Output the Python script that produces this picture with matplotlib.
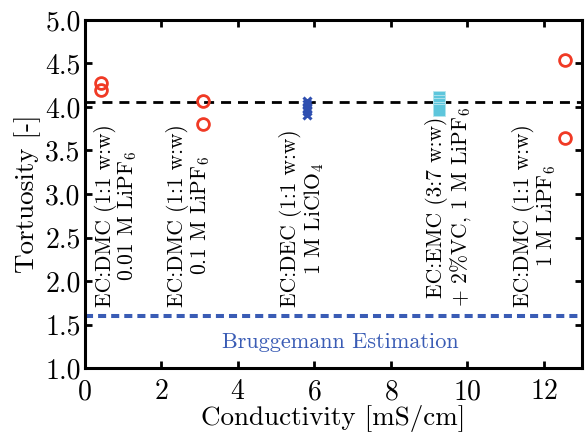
import matplotlib.pyplot as plt

plt.rcParams['font.family'] = 'serif'
plt.rcParams['font.serif'] = ['cmr10', 'DejaVu Serif']
plt.rcParams['mathtext.fontset'] = 'cm'
plt.rcParams['axes.formatter.use_mathtext'] = True

# red circles (LiPF6 in EC:DMC)
circ_x = [0.42, 0.42, 3.1, 3.1, 12.55, 12.55]
circ_y = [4.27, 4.20, 4.07, 3.80, 4.54, 3.64]
# blue crosses (LiClO4)
cross_x = [5.82, 5.82, 5.82, 5.82, 5.82]
cross_y = [4.07, 4.03, 3.99, 3.95, 3.91]
# cyan squares (EC:EMC + VC)
sq_x = [9.27, 9.27, 9.27, 9.27, 9.27]
sq_y = [4.11, 4.07, 4.03, 3.99, 3.96]

mean_tort = 4.06
brugg = 1.6

label_x = [0.83, 2.73, 5.69, 9.52, 11.77]
labels = ['EC:DMC (1:1 w:w)\n0.01 M LiPF$_6$',
          'EC:DMC (1:1 w:w)\n0.1 M LiPF$_6$',
          'EC:DEC (1:1 w:w)\n1 M LiClO$_4$',
          'EC:EMC (3:7 w:w)\n+ 2%VC, 1 M LiPF$_6$',
          'EC:DMC (1:1 w:w)\n1 M LiPF$_6$']

fig = plt.figure(figsize=(5.85, 4.34), dpi=100)
ax = fig.add_axes([0.145, 0.152, 0.85, 0.802])

ax.axhline(mean_tort, color='black', linestyle='--', linewidth=2, dashes=(3.6, 2.5))
ax.axhline(brugg, color='#3a5cb5', linestyle='--', linewidth=2.9, dashes=(2, 1.25))

ax.plot(sq_x, sq_y, 's', color='#5ec6dc', markersize=9, markeredgecolor='#b8e6ee', markeredgewidth=0.6)
ax.plot(cross_x, cross_y, 'x', color='#2f4fb0', markersize=6, markeredgewidth=2.2)
ax.plot(circ_x, circ_y, 'o', markerfacecolor='none', markeredgecolor='#f03a25', markersize=8.5, markeredgewidth=2)

for xx, t in zip(label_x, labels):
    ax.text(xx, 1.70, t, rotation=90, ha='center', va='bottom', fontsize=15.5, linespacing=1.0)

ax.text(6.67, 1.3, 'Bruggemann Estimation', color='#3a5cb5', fontsize=16, ha='center', va='center')

ax.set_xlim(0, 13)
ax.set_ylim(1.0, 5.0)
ax.set_xticks([0, 2, 4, 6, 8, 10, 12])
ax.set_yticks([1.0, 1.5, 2.0, 2.5, 3.0, 3.5, 4.0, 4.5, 5.0])
ax.set_yticklabels(['1.0', '1.5', '2.0', '2.5', '3.0', '3.5', '4.0', '4.5', '5.0'])
ax.tick_params(direction='in', top=True, right=True, length=5, width=2, labelsize=20, pad=3)
ax.tick_params(axis='x', pad=8)
for s in ax.spines.values():
    s.set_linewidth(2.2)
ax.set_xlabel('Conductivity [mS/cm]', fontsize=19.5, labelpad=0)
ax.set_ylabel('Tortuosity [-]', fontsize=19.5, labelpad=3)

fig.savefig('out.png', dpi=100)
